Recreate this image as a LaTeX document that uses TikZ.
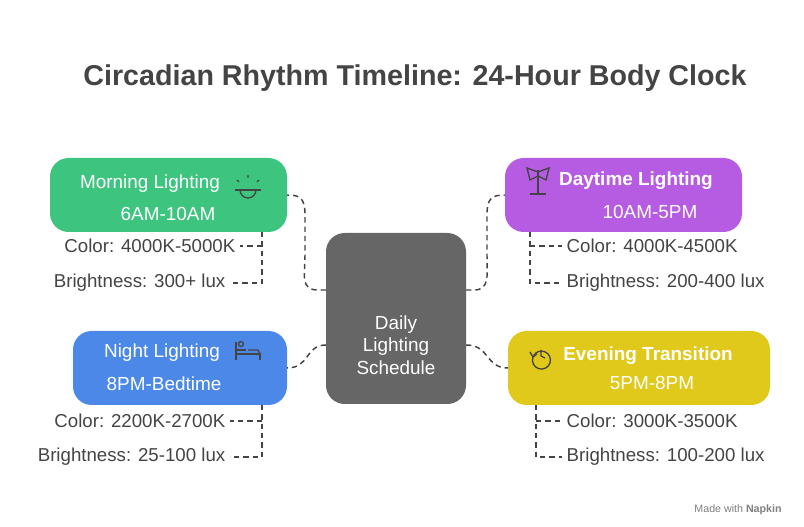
\documentclass[tikz,border=0pt]{standalone}
\usepackage{fontspec}
\setmainfont{Liberation Sans}
\definecolor{txt}{HTML}{444444}
\definecolor{cgreen}{HTML}{3DC47E}
\definecolor{cpurple}{HTML}{B65CE2}
\definecolor{cblue}{HTML}{4C88E8}
\definecolor{cyellow}{HTML}{E0C91B}
\definecolor{cgray}{HTML}{666666}
\begin{document}
\begin{tikzpicture}[x=0.75pt,y=-0.75pt,
  box/.style={rounded corners=14pt,draw=none},
  wt/.style={text=white,font=\fontsize{14.2}{17}\selectfont},
  lbl/.style={text=txt,font=\fontsize{14}{16}\selectfont},
  con/.style={draw=txt,dashed,line width=1.1pt,dash pattern=on 4pt off 3pt},
  ic/.style={draw=txt,line width=1pt}]
\useasboundingbox (0,0) rectangle (804,527);
\fill[white] (0,0) rectangle (804,527);
\node[text=txt,font=\bfseries\fontsize{21.5}{26}\selectfont] (title) at (415,78) {Circadian Rhythm Timeline: 24-Hour Body Clock};
% center
\fill[box,cgray] (326,233) rectangle (466,404);
\node[wt,align=center] (center) at (396,345) {Daily\\Lighting\\Schedule};
\coordinate (cl1) at (326,290); \coordinate (cr1) at (466,290);
\coordinate (cl2) at (326,345); \coordinate (cr2) at (466,345);
% boxes
\fill[box,cgreen] (50,158) rectangle (287,232);
\node[wt] (m1) at (150,184) {Morning Lighting};
\node[wt] (m2) at (168,214) {6AM-10AM};
\fill[box,cpurple] (505,158) rectangle (742,232);
\node[wt,font=\bfseries\fontsize{14.2}{17}\selectfont] (d1) at (636,181) {Daytime Lighting};
\node[wt] (d2) at (650,212) {10AM-5PM};
\fill[box,cblue] (73,331) rectangle (287,405);
\node[wt] (n1) at (162,353) {Night Lighting};
\node[wt] (n2) at (164,384) {8PM-Bedtime};
\fill[box,cyellow] (508,331) rectangle (770,405);
\node[wt,font=\bfseries\fontsize{14.2}{17}\selectfont] (e1) at (648,356) {Evening Transition};
\node[wt] (e2) at (652,383) {5PM-8PM};
\coordinate (mr) at (287,195); \coordinate (dl) at (505,195);
\coordinate (nr) at (287,368); \coordinate (el) at (508,368);
% icons
\draw[ic] (235,190)--(261,190); \draw[ic] (240,190) arc (180:0:8);
\draw[ic] (248,178)--(248,175) (239,182)--(237,180) (257,182)--(259,180);
\draw[ic] (538,194)--(538,170) (530,194)--(546,194);
\draw[ic] (538,172)--(527,168)--(530,180)--(538,176) (538,172)--(549,168)--(546,180)--(538,176);
\draw[ic] (236,360)--(236,342) (236,354)--(260,354)--(260,360) (236,350)--(246,350);
\draw[ic] (241,344) circle (2.5); \draw[ic] (248,350)--(258,350)--(260,354);
\draw[ic] (533,357) arc (200:-150:9); \draw[ic] (541,350)--(541,356)--(545,358);
\draw[ic] (530,352)--(533,357)--(537,354);
% connectors
\draw[con] (cl1) -- (318,290) .. controls (300,290) and (305,275) .. (305,255) -- (305,215) .. controls (305,198) and (300,195) .. (mr);
\draw[con] (cr1) -- (474,290) .. controls (490,290) and (487,275) .. (487,255) -- (487,215) .. controls (487,198) and (492,195) .. (dl);
\draw[con] (cl2) .. controls (305,345) and (310,368) .. (nr);
\draw[con] (cr2) .. controls (490,345) and (485,368) .. (el);
% labels
\node[lbl,anchor=east] (mc) at (240,246) {Color: 4000K-5000K};
\node[lbl,anchor=east] (mb) at (230,283) {Brightness: 300+ lux};
\draw[con] (262,232) -- (262,283) -- (mb.east) (262,246) -- (mc.east);
\node[lbl,anchor=west] (dc) at (562,246) {Color: 4000K-4500K};
\node[lbl,anchor=west] (db) at (562,283) {Brightness: 200-400 lux};
\draw[con] (530,232) -- (530,283) -- (db.west) (530,246) -- (dc.west);
\node[lbl,anchor=east] (nc) at (230,421) {Color: 2200K-2700K};
\node[lbl,anchor=east] (nb) at (230,457) {Brightness: 25-100 lux};
\draw[con] (262,405) -- (262,457) -- (nb.east) (262,421) -- (nc.east);
\node[lbl,anchor=west] (ec) at (562,421) {Color: 3000K-3500K};
\node[lbl,anchor=west] (eb) at (562,457) {Brightness: 100-200 lux};
\draw[con] (536,405) -- (536,457) -- (eb.west) (536,421) -- (ec.west);
\node[text=gray,font=\fontsize{8}{10}\selectfont] (foot) at (738,510) {Made with \textbf{Napkin}};
\end{tikzpicture}
\end{document}
